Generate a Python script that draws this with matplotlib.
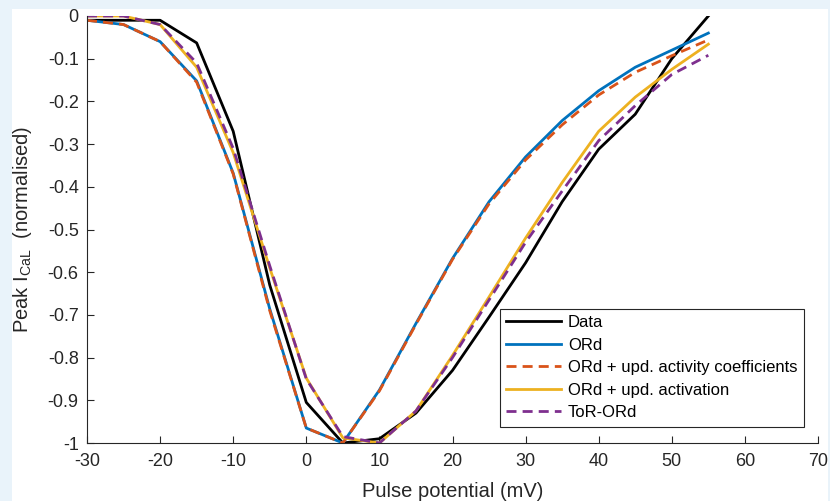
import matplotlib
matplotlib.use("Agg")
import matplotlib.pyplot as plt
from matplotlib.patches import Rectangle

plt.rcParams['font.family'] = ['Liberation Sans', 'DejaVu Sans']
plt.rcParams['mathtext.fontset'] = 'custom'
plt.rcParams['mathtext.rm'] = 'Liberation Sans'
plt.rcParams['mathtext.it'] = 'Liberation Sans'

# Data
voltage = [-30, -25, -20, -15, -10, -5, 0, 5, 10, 15, 20, 25, 30, 35, 40, 45, 50, 55]
data = [-0.01, -0.01, -0.01, -0.063, -0.27, -0.63, -0.905, -1.0, -0.99, -0.93,
        -0.83, -0.705, -0.578, -0.435, -0.312, -0.23, -0.10, 0.0]
ord_base = [-0.01, -0.02, -0.06, -0.152, -0.368, -0.686, -0.965, -1.0, -0.876, -0.72,
            -0.568, -0.435, -0.33, -0.245, -0.175, -0.12, -0.08, -0.04]
ord_act_coef = [-0.01, -0.02, -0.06, -0.155, -0.37, -0.69, -0.965, -1.0, -0.878, -0.722,
                -0.57, -0.44, -0.337, -0.255, -0.185, -0.132, -0.093, -0.056]
ord_activation = [0.0, 0.0, -0.02, -0.12, -0.32, -0.59, -0.848, -0.988, -1.0, -0.925,
                  -0.795, -0.658, -0.52, -0.39, -0.27, -0.19, -0.125, -0.066]
tor_ord = [0.0, 0.0, -0.02, -0.11, -0.31, -0.585, -0.85, -0.985, -1.0, -0.925,
           -0.8, -0.665, -0.53, -0.41, -0.292, -0.21, -0.137, -0.092]

labels = ['Data', 'ORd', 'ORd + upd. activity coefficients',
          'ORd + upd. activation', 'ToR-ORd']
xticks = list(range(-30, 71, 10))
yticks = [-1, -0.9, -0.8, -0.7, -0.6, -0.5, -0.4, -0.3, -0.2, -0.1, 0]
ytick_labels = ['-1', '-0.9', '-0.8', '-0.7', '-0.6', '-0.5', '-0.4', '-0.3', '-0.2', '-0.1', '0']

fig = plt.figure(figsize=(8.3, 5.01), dpi=100)
fig.patch.set_facecolor('#E9F3FA')
bg = Rectangle((12/830, 0), (828-12)/830, (501-9)/501,
               transform=fig.transFigure, facecolor='white',
               edgecolor='none', zorder=-10)
fig.patches.append(bg)

ax = fig.add_axes([87/830, (501-443)/501, 731/830, 427/501])
ax.set_zorder(1)
ax.set_facecolor('white')

lw = 2.0
dash = (3.6, 2.2)
ax.plot(voltage, data, color='black', lw=lw, label=labels[0])
ax.plot(voltage, ord_base, color='#0072BD', lw=lw, label=labels[1])
ax.plot(voltage, ord_act_coef, color='#D95319', lw=lw, dashes=dash, label=labels[2])
ax.plot(voltage, ord_activation, color='#EDB120', lw=lw, label=labels[3])
ax.plot(voltage, tor_ord, color='#7E2F8E', lw=lw, dashes=dash, label=labels[4])

ax.set_xlim(-30, 70)
ax.set_ylim(-1, 0)
ax.set_xticks(xticks)
ax.set_xticklabels([str(t) for t in xticks])
ax.set_yticks(yticks)
ax.set_yticklabels(ytick_labels)

for s in ['top', 'right']:
    ax.spines[s].set_visible(False)
for s in ['left', 'bottom']:
    ax.spines[s].set_color('#262626')
    ax.spines[s].set_linewidth(0.8)

ax.tick_params(direction='in', length=5, width=0.8, colors='#262626',
               labelsize=13, pad=6)
ax.tick_params(axis='x', pad=7)

ax.set_xlabel('Pulse potential (mV)', fontsize=14.5, color='#262626', labelpad=9)
ax.set_ylabel(r'Peak I$_{\mathrm{CaL}}$  (normalised)', fontsize=14.5,
              color='#262626', labelpad=10)

leg = ax.legend(loc='lower right', bbox_to_anchor=(0.981, 0.0375), borderaxespad=0,
                fontsize=12, fancybox=False, framealpha=1, edgecolor='#262626',
                handlelength=3.3, handletextpad=0.4, labelspacing=0.45,
                borderpad=0.4)
leg.get_frame().set_linewidth(0.8)

fig.savefig('out.png', dpi=100, facecolor=fig.get_facecolor())
